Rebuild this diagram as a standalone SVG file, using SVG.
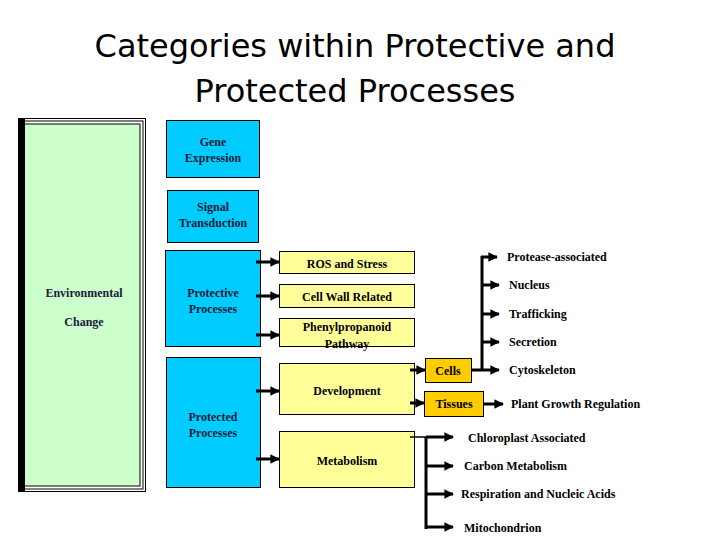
<svg xmlns="http://www.w3.org/2000/svg" width="720" height="540" viewBox="0 0 720 540">
<defs>
<marker id="ah" viewBox="0 0 10 10" refX="9" refY="5" markerWidth="3.2" markerHeight="3.2" orient="auto"><path d="M0,0 L10,5 L0,10 z" fill="#000"/></marker>
<style>
.t{font-family:"Liberation Serif",serif;font-weight:bold;font-size:12px;fill:#000;text-anchor:middle}
.n{font-family:"Liberation Serif",serif;font-weight:bold;font-size:12px;fill:#1a1a3a;text-anchor:middle}
.l{font-family:"Liberation Serif",serif;font-weight:bold;font-size:12px;fill:#000}
.b{fill:#00ccff;stroke:#000;stroke-width:1}
.y{fill:#ffff99;stroke:#000;stroke-width:1}
.o{fill:#ffcc00;stroke:#000;stroke-width:1}
.c{stroke:#000;stroke-width:3;fill:none}
.a{stroke:#000;stroke-width:3;fill:none;marker-end:url(#ah)}
</style>
</defs>
<rect width="720" height="540" fill="#fff"/>
<text x="355" y="57" font-family="DejaVu Sans,sans-serif" font-size="32" text-anchor="middle">Categories within Protective and</text>
<text x="355" y="102" font-family="DejaVu Sans,sans-serif" font-size="32" text-anchor="middle">Protected Processes</text>
<g id="env">
<rect x="18.5" y="118.5" width="127" height="373" fill="#fff" stroke="#000" stroke-width="1"/>
<rect x="21" y="121" width="122" height="368" fill="#fff" stroke="#000" stroke-width="1"/>
<rect x="24" y="124" width="116" height="362" fill="#ccffcc" stroke="#000" stroke-width="1"/>
<rect x="19" y="119" width="6" height="372" fill="#000"/>
<text class="n" x="84" y="297">Environmental</text>
<text class="n" x="84" y="326">Change</text>
</g>
<g id="gene"><rect class="b" x="166.5" y="120.5" width="93" height="57"/><text class="n" x="213" y="146">Gene</text><text class="n" x="213" y="162">Expression</text></g>
<g id="signal"><rect class="b" x="167.5" y="190.5" width="91" height="52"/><text class="n" x="213" y="211">Signal</text><text class="n" x="213" y="227">Transduction</text></g>
<g id="protective"><rect class="b" x="165.5" y="250.5" width="95" height="96"/><text class="n" x="213" y="297">Protective</text><text class="n" x="213" y="313">Processes</text></g>
<g id="protected"><rect class="b" x="166.5" y="357.5" width="94" height="130"/><text class="n" x="213" y="421">Protected</text><text class="n" x="213" y="437">Processes</text></g>
<g id="ros"><rect class="y" x="279.5" y="251.5" width="135" height="22"/><text class="t" x="347" y="268">ROS and Stress</text></g>
<g id="cellwall"><rect class="y" x="279.5" y="284.5" width="135" height="23"/><text class="t" x="347" y="301">Cell Wall Related</text></g>
<g id="phenyl"><rect class="y" x="279.5" y="318.5" width="135" height="28"/><text class="t" x="347" y="331">Phenylpropanoid</text><text class="t" x="347" y="348">Pathway</text></g>
<g id="development"><rect class="y" x="279.5" y="363.5" width="135" height="51"/><text class="t" x="347" y="395">Development</text></g>
<g id="metabolism"><rect class="y" x="279.5" y="431.5" width="135" height="56"/><text class="t" x="347" y="465">Metabolism</text></g>
<g id="cells"><rect class="o" x="425.5" y="358.5" width="46" height="24"/><text class="t" x="448" y="375">Cells</text></g>
<g id="tissues"><rect class="o" x="424.5" y="391.5" width="59" height="25"/><text class="t" x="454" y="408">Tissues</text></g>
<g id="labels">
<text class="l" x="507" y="261">Protease-associated</text>
<text class="l" x="509" y="289">Nucleus</text>
<text class="l" x="509" y="318">Trafficking</text>
<text class="l" x="509" y="346">Secretion</text>
<text class="l" x="509" y="374">Cytoskeleton</text>
<text class="l" x="511" y="408">Plant Growth Regulation</text>
<text class="l" x="468" y="442">Chloroplast Associated</text>
<text class="l" x="464" y="470">Carbon Metabolism</text>
<text class="l" x="461" y="498">Respiration and Nucleic Acids</text>
<text class="l" x="464" y="532">Mitochondrion</text>
</g>
<g id="connectors">
<line class="a" x1="256" y1="262" x2="279" y2="262"/>
<line class="a" x1="256" y1="296" x2="279" y2="296"/>
<line class="a" x1="256" y1="335" x2="279" y2="335"/>
<line class="a" x1="256" y1="391" x2="279" y2="391"/>
<line class="a" x1="256" y1="459" x2="279" y2="459"/>
<line class="a" x1="410" y1="370" x2="425" y2="370"/>
<line class="a" x1="410" y1="403" x2="424" y2="403"/>
<line class="c" x1="471" y1="370" x2="482" y2="370"/>
<line class="c" x1="482" y1="371" x2="482" y2="256"/>
<line class="a" x1="481" y1="257" x2="497" y2="257"/>
<line class="a" x1="482" y1="285" x2="499" y2="285"/>
<line class="a" x1="482" y1="314" x2="499" y2="314"/>
<line class="a" x1="482" y1="342" x2="499" y2="342"/>
<line class="a" x1="482" y1="370" x2="499" y2="370"/>
<line class="a" x1="484" y1="404" x2="503" y2="404"/>
<line stroke="#000" stroke-width="1.5" x1="410" y1="437" x2="426" y2="437"/>
<line class="c" x1="426" y1="437" x2="426" y2="529"/>
<line class="a" x1="426" y1="437" x2="453" y2="437"/>
<line class="a" x1="426" y1="466" x2="453" y2="466"/>
<line class="a" x1="426" y1="494" x2="453" y2="494"/>
<line class="a" x1="425" y1="527" x2="453" y2="527"/>
</g>
</svg>
